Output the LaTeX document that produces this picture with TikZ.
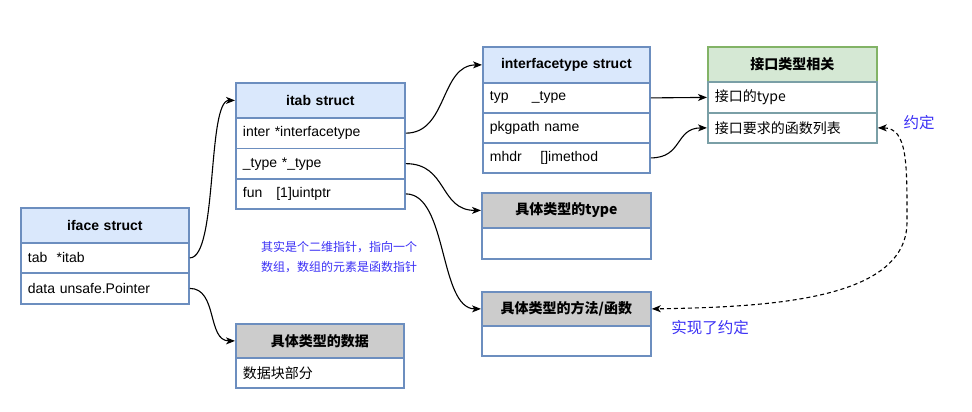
\documentclass[tikz,border=0pt]{standalone}
\usepackage{fontspec}
\setmainfont{Liberation Sans}
\newfontfamily\cjk{Noto Sans CJK SC}
\usetikzlibrary{arrows.meta}
\definecolor{bluebdr}{HTML}{6C8EBF}
\definecolor{bluefill}{HTML}{DAE8FC}
\definecolor{greenbdr}{HTML}{82B366}
\definecolor{greenfill}{HTML}{D5E8D4}
\definecolor{grayfill}{HTML}{CCCCCC}
\definecolor{note}{HTML}{3B30F5}
\definecolor{greenrow}{HTML}{7A9FA6}
\tikzset{
  cellbase/.style={rectangle, line width=1.8pt, anchor=north west, inner ysep=0pt},
  hdr/.style={cellbase, inner xsep=0pt, align=center, font=\fontsize{14}{16}\selectfont\bfseries},
  rowc/.style={cellbase, draw=bluebdr, fill=white, inner xsep=7pt, align=left, font=\fontsize{14}{16}\selectfont},
  hblue/.style={hdr, draw=bluebdr, fill=bluefill},
  hgreen/.style={hdr, draw=greenbdr, fill=greenfill},
  hgray/.style={hdr, draw=bluebdr, fill=grayfill},
  conn/.style={line width=1.1pt, -{Stealth[length=9pt,width=7pt,inset=2.5pt]}},
  dconn/.style={line width=1.1pt, dashed, dash pattern=on 4pt off 3pt, {Stealth[length=9pt,width=7pt,inset=2.5pt]}-{Stealth[length=9pt,width=7pt,inset=2.5pt]}},
  notetext/.style={text=note, align=center}
}
\begin{document}
\begin{tikzpicture}[x=1pt,y=-1pt]
\useasboundingbox (0,0) rectangle (972,412);
% iface struct
\node[hblue, text width=168pt, minimum height=35pt] (if-h) at (20,207) {iface struct};
\node[rowc, text width=154pt, minimum height=30pt] (if-tab) at (20,242) {tab\ \ *itab};
\node[rowc, text width=154pt, minimum height=31pt] (if-data) at (20,272) {data unsafe.Pointer};
% itab struct
\node[hblue, text width=169pt, minimum height=35pt] (ib-h) at (235,82) {itab struct};
\node[rowc, text width=155pt, minimum height=30.5pt] (ib-inter) at (235,117) {inter *interfacetype};
\node[rowc, text width=155pt, minimum height=30.5pt] (ib-type) at (235,147.5) {\_type *\_type};
\node[rowc, text width=155pt, minimum height=30pt] (ib-fun) at (235,178) {fun\ \ \ [1]uintptr};
% interfacetype struct
\node[hblue, text width=167pt, minimum height=36pt] (it-h) at (482,46) {interfacetype struct};
\node[rowc, text width=153pt, minimum height=30pt] (it-typ) at (482,82) {typ\ \ \ \ \ \_type};
\node[rowc, text width=153pt, minimum height=30pt] (it-pkg) at (482,112) {pkgpath name};
\node[rowc, text width=153pt, minimum height=30pt] (it-mhdr) at (482,142) {mhdr\ \ \ \ []imethod};
% 接口类型相关
\node[hgreen, text width=169pt, minimum height=35pt] (jk-h) at (707,46) {\cjk\bfseries 接口类型相关};
\node[rowc, draw=greenrow, text width=155pt, minimum height=31pt] (jk-typ) at (707,81) {\cjk 接口的type};
\node[rowc, draw=greenrow, text width=155pt, minimum height=30pt] (jk-fn) at (707,112) {\cjk 接口要求的函数列表};
% 具体类型的type
\node[hgray, text width=169pt, minimum height=35pt] (ct-h) at (481,192) {\cjk\bfseries 具体类型的type};
\node[rowc, text width=155pt, minimum height=31pt] (ct-r) at (481,227) {};
% 具体类型的方法/函数
\node[hgray, text width=169pt, minimum height=34pt] (cm-h) at (481,291) {\cjk\bfseries 具体类型的方法/函数};
\node[rowc, text width=155pt, minimum height=30pt] (cm-r) at (481,325) {};
% 具体类型的数据
\node[hgray, text width=168pt, minimum height=34pt] (cd-h) at (235,323) {\cjk\bfseries 具体类型的数据};
\node[rowc, text width=154pt, minimum height=30pt] (cd-r) at (235,357) {\cjk 数据块部分};
% notes
\node[notetext, font=\fontsize{12}{20}\selectfont\cjk] (n1) at (339,257) {其实是个二维指针，指向一个\\数组，数组的元素是函数指针};
\node[notetext, font=\fontsize{15.5}{18}\selectfont\cjk] (n2) at (919,123) {约定};
\node[notetext, font=\fontsize{15.5}{18}\selectfont\cjk] (n3) at (710,328) {实现了约定};
% connectors
\draw[conn] (if-tab.east) .. controls +(28,0) and +(-28,0) .. (ib-h.west);
\draw[conn] (if-data.east) .. controls +(28,0) and +(-28,0) .. (cd-h.west);
\draw[conn] (ib-inter.east) .. controls +(42,0) and +(-42,0) .. (it-h.west);
\draw[conn] (ib-type.east) .. controls +(42,0) and +(-42,0) .. (ct-h.west);
\draw[conn] (ib-fun.east) .. controls +(42,0) and +(-42,0) .. (cm-h.west);
\draw[conn] (it-typ.east) -- (jk-typ.west);
\draw[conn] (it-mhdr.east) .. controls +(32,0) and +(-32,0) .. (jk-fn.west);
\coordinate (dmid) at (907,222);
\draw[dconn] (jk-fn.east) .. controls +(30,0) and (907,165) .. (dmid) .. controls (907,300) and (770,307) .. (cm-h.east);
\end{tikzpicture}
\end{document}
